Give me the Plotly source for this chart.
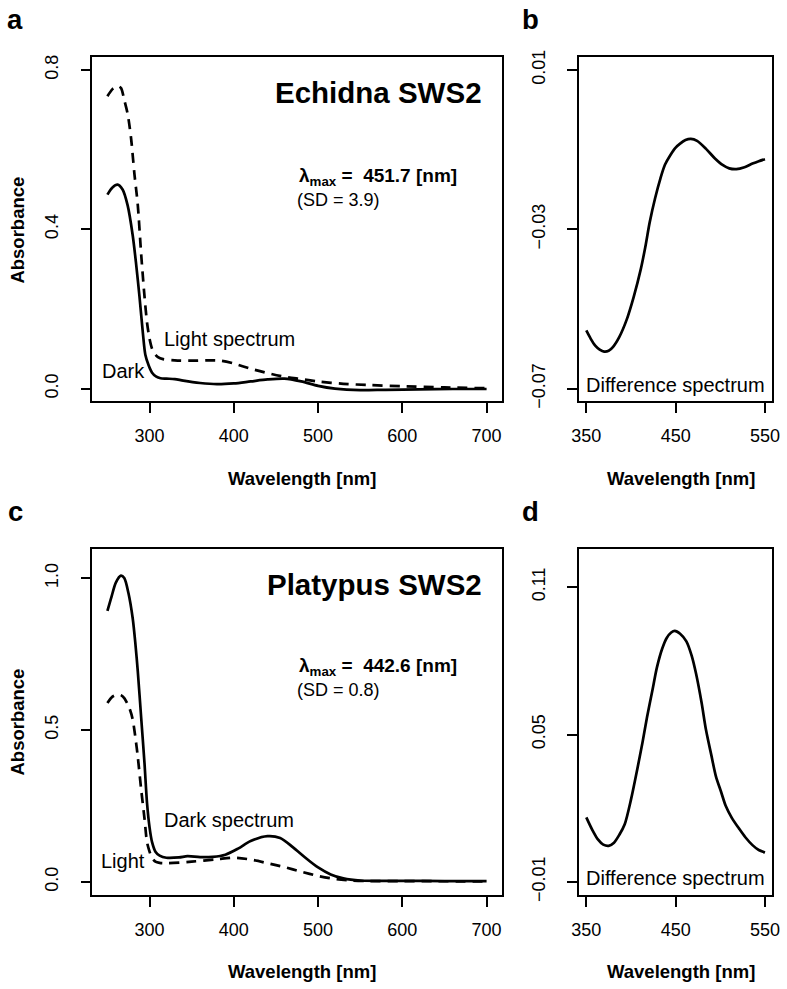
import plotly.graph_objects as go

# ---------------- data ----------------
echidna_dark_wl = [250, 256, 262, 268, 274, 280, 284, 288, 292, 295, 299, 303, 308, 313, 320, 330, 340,
                   360, 380, 400, 420, 440, 460, 480, 500, 520, 550, 580, 620, 660, 700]
echidna_dark_abs = [0.487, 0.505, 0.512, 0.500, 0.460, 0.385, 0.314, 0.232, 0.141, 0.085, 0.058, 0.040,
                    0.030, 0.026, 0.025, 0.024, 0.020, 0.014, 0.011, 0.013, 0.018, 0.023, 0.025, 0.018,
                    0.007, 0.000, -0.004, -0.003, -0.002, -0.001, -0.001]

echidna_light_wl = [250, 256, 262, 266, 270, 274, 278, 282, 286, 290, 294, 297, 300, 303, 306, 310, 316,
                    330, 350, 370, 385, 400, 420, 440, 460, 480, 500, 530, 560, 600, 650, 700]
echidna_light_abs = [0.734, 0.752, 0.760, 0.755, 0.725, 0.690, 0.630, 0.540, 0.462, 0.339, 0.232, 0.166,
                     0.125, 0.100, 0.088, 0.079, 0.074, 0.071, 0.070, 0.071, 0.070, 0.063, 0.050, 0.039,
                     0.030, 0.024, 0.018, 0.012, 0.009, 0.006, 0.003, 0.001]

platypus_dark_wl = [250, 255, 260, 266, 270, 275, 280, 283, 286, 290, 294, 297, 300, 303, 307, 312, 320,
                    335, 345, 360, 375, 390, 405, 420, 440, 455, 470, 485, 500, 515, 530, 550, 600, 650, 700]
platypus_dark_abs = [0.892, 0.940, 0.985, 1.008, 1.000, 0.950, 0.868, 0.790, 0.695, 0.543, 0.391, 0.260,
                     0.180, 0.131, 0.100, 0.087, 0.080, 0.081, 0.085, 0.082, 0.083, 0.090, 0.110, 0.135,
                     0.151, 0.145, 0.115, 0.080, 0.048, 0.025, 0.012, 0.005, 0.004, 0.003, 0.003]

platypus_light_wl = [250, 256, 262, 266, 270, 274, 277, 280, 283, 286, 290, 294, 297, 300, 303, 307, 312,
                     320, 350, 380, 400, 420, 440, 460, 480, 500, 520, 540, 560, 600, 700]
platypus_light_abs = [0.589, 0.610, 0.617, 0.615, 0.605, 0.585, 0.565, 0.535, 0.480, 0.413, 0.306, 0.209,
                      0.131, 0.100, 0.079, 0.067, 0.063, 0.062, 0.067, 0.075, 0.080, 0.074, 0.062, 0.049,
                      0.034, 0.020, 0.010, 0.005, 0.003, 0.003, 0.002]

echidna_diff_wl = [350, 355, 360, 365, 370, 375, 380, 387, 395, 403, 411, 416, 421, 427, 433, 438, 444,
                   450, 455, 461, 467, 474, 484, 494, 503, 510, 518, 527, 536, 543, 550]
echidna_diff = [-0.0554, -0.0575, -0.0592, -0.0602, -0.0607, -0.0605, -0.0595, -0.0570, -0.0528, -0.0470,
                -0.0400, -0.0345, -0.0282, -0.0222, -0.0172, -0.0138, -0.0114, -0.0095, -0.0085, -0.0076,
                -0.0073, -0.0078, -0.0098, -0.0122, -0.0139, -0.0147, -0.0149, -0.0144, -0.0135, -0.0129,
                -0.0124]

platypus_diff_wl = [350, 357, 363, 369, 375, 381, 387, 393, 400, 407, 413, 418, 424, 429, 435, 440, 445,
                    449, 455, 462, 468, 473, 479, 484, 490, 495, 501, 506, 513, 521, 528, 536, 543, 550]
platypus_diff = [0.0163, 0.0110, 0.0073, 0.0052, 0.0047, 0.0060, 0.0092, 0.0135, 0.0235, 0.0358, 0.0470,
                 0.0571, 0.0680, 0.0772, 0.0850, 0.0893, 0.0915, 0.0922, 0.0910, 0.0879, 0.0820, 0.0745,
                 0.0630, 0.0518, 0.0415, 0.0331, 0.0265, 0.0210, 0.0160, 0.0117, 0.0082, 0.0050, 0.0030,
                 0.0020]

abs_x_ticks = [300, 400, 500, 600, 700]
diff_x_ticks = [350, 450, 550]
a_y_ticks = [0.0, 0.4, 0.8]
a_y_labels = ["0.0", "0.4", "0.8"]
b_y_ticks = [0.01, -0.03, -0.07]
b_y_labels = ["0.01", "\u22120.03", "\u22120.07"]
c_y_ticks = [0.0, 0.5, 1.0]
c_y_labels = ["0.0", "0.5", "1.0"]
d_y_ticks = [-0.01, 0.05, 0.11]
d_y_labels = ["\u22120.01", "0.05", "0.11"]

# ---------------- figure ----------------
W, H = 787, 989
FONT = "Liberation Sans, Arial, Helvetica, sans-serif"

def px_x(p):
    return p / W

def px_y(p):
    return 1 - p / H

fig = go.Figure()

LW = 2.7
DASH = "10px,7px"

def line(dash=None):
    d = dict(color="black", width=LW, shape="spline", smoothing=0.8)
    if dash:
        d["dash"] = dash
    return d

fig.add_trace(go.Scatter(x=echidna_dark_wl, y=echidna_dark_abs, mode="lines", line=line(),
                         xaxis="x", yaxis="y"))
fig.add_trace(go.Scatter(x=echidna_light_wl, y=echidna_light_abs, mode="lines", line=line(DASH),
                         xaxis="x", yaxis="y"))
fig.add_trace(go.Scatter(x=echidna_diff_wl, y=echidna_diff, mode="lines", line=line(),
                         xaxis="x2", yaxis="y2"))
fig.add_trace(go.Scatter(x=platypus_dark_wl, y=platypus_dark_abs, mode="lines", line=line(),
                         xaxis="x3", yaxis="y3"))
fig.add_trace(go.Scatter(x=platypus_light_wl, y=platypus_light_abs, mode="lines", line=line(DASH),
                         xaxis="x3", yaxis="y3"))
fig.add_trace(go.Scatter(x=platypus_diff_wl, y=platypus_diff, mode="lines", line=line(),
                         xaxis="x4", yaxis="y4"))

left_dom = [px_x(86), px_x(504)]
right_dom = [px_x(583), px_x(780)]
top_dom = [px_y(400), px_y(51)]
bot_dom = [px_y(901), px_y(550)]

common = dict(showline=True, mirror=True, linecolor="black", linewidth=1.5,
              ticks="outside", ticklen=10, tickwidth=1.5, tickcolor="black",
              showgrid=False, zeroline=False, fixedrange=True,
              tickfont=dict(family=FONT, size=18, color="black"))

def xax(dom, rng, ticks, anchor):
    d = dict(common)
    d.update(domain=dom, range=rng, tickmode="array", tickvals=ticks,
             ticktext=[str(t) for t in ticks], anchor=anchor,
             ticklabelstandoff=7, ticklabeloverflow="allow")
    return d

def yax(dom, rng, ticks, labels, anchor):
    d = dict(common)
    d.update(domain=dom, range=rng, tickmode="array", tickvals=ticks,
             ticktext=labels, anchor=anchor, tickangle=-90,
             ticklabelstandoff=15, ticklabeloverflow="allow")
    return d

fig.update_layout(
    width=W, height=H, autosize=False,
    margin=dict(l=0, r=0, t=0, b=0),
    paper_bgcolor="white", plot_bgcolor="white",
    showlegend=False,
    font=dict(family=FONT, color="black"),
    xaxis=xax(left_dom, [232, 718], abs_x_ticks, "y"),
    yaxis=yax(top_dom, [-0.032, 0.832], a_y_ticks, a_y_labels, "x"),
    xaxis2=xax(right_dom, [342, 558], diff_x_ticks, "y2"),
    yaxis2=yax(top_dom, [-0.0732, 0.0132], b_y_ticks, b_y_labels, "x2"),
    xaxis3=xax(left_dom, [232, 718], abs_x_ticks, "y3"),
    yaxis3=yax(bot_dom, [-0.0435, 1.095], c_y_ticks, c_y_labels, "x3"),
    xaxis4=xax(right_dom, [342, 558], diff_x_ticks, "y4"),
    yaxis4=yax(bot_dom, [-0.0154, 0.1254], d_y_ticks, d_y_labels, "x4"),
)

ann = []

def add_text(text, x, y, size, bold=False, angle=0):
    ann.append(dict(text=("<b>%s</b>" % text) if bold else text,
                    x=px_x(x), y=px_y(y), xref="paper", yref="paper",
                    xanchor="center", yanchor="middle", showarrow=False, textangle=angle,
                    font=dict(family=FONT, size=size, color="black")))

# panel letters
add_text("a", 7.5, 12.5, 27.5, bold=True)
add_text("b", 533, 12.5, 27.5, bold=True)
add_text("c", 7.5, 512, 27.5, bold=True)
add_text("d", 533, 512, 27.5, bold=True)

# panel titles
add_text("Echidna SWS2", 378.5, 86.5, 29.5, bold=True)
add_text("Platypus SWS2", 374, 585.8, 29.5, bold=True)

# lambda max annotations
add_text("\u03bb<sub>max</sub> = \u00a0451.7 [nm]", 378, 172.5, 19, bold=True)
add_text("(SD = 3.9)", 337.5, 196, 18)
add_text("\u03bb<sub>max</sub> = \u00a0442.6 [nm]", 378, 669, 19, bold=True)
add_text("(SD = 0.8)", 337.5, 693, 18)

# curve labels
add_text("Light spectrum", 226, 337, 20)
add_text("Dark", 117.8, 369, 20)
add_text("Dark spectrum", 225.5, 825, 20)
add_text("Light", 117.7, 866, 20)
add_text("Difference spectrum", 681.7, 383, 20)
add_text("Difference spectrum", 681.7, 883, 20)

# axis titles
add_text("Wavelength [nm]", 299.7, 478.6, 18.5, bold=True)
add_text("Wavelength [nm]", 686.7, 478.6, 18.5, bold=True)
add_text("Wavelength [nm]", 299.7, 978.6, 18.5, bold=True)
add_text("Wavelength [nm]", 686.7, 978.6, 18.5, bold=True)
add_text("Absorbance", 10, 226, 18.5, bold=True, angle=-90)
add_text("Absorbance", 10, 725, 18.5, bold=True, angle=-90)

fig.update_layout(annotations=ann)

fig.write_html("out.html", config={"displayModeBar": False},
               post_script="document.body.style.margin='0';document.body.style.overflow='hidden';")
